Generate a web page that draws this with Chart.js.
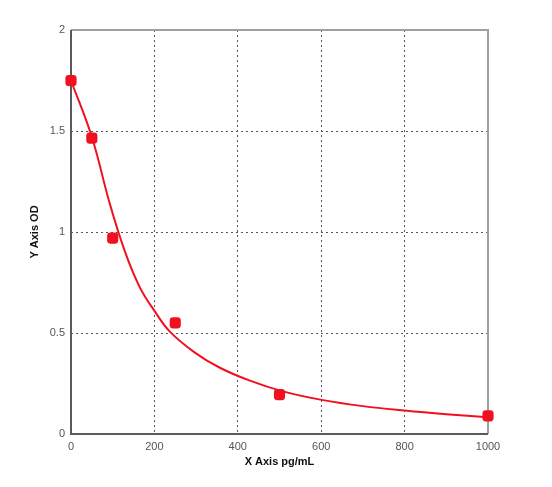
<!DOCTYPE html>
<html><head><meta charset="utf-8">
<script src="https://cdn.jsdelivr.net/npm/chart.js@4"></script>
<style>html,body{margin:0;padding:0;background:#fff}#wrap{width:552px;height:487px}</style>
</head><body><div id="wrap"><canvas id="c" width="552" height="487"></canvas></div>
<script>
const pointX = [0, 50, 100, 250, 500, 1000];
const pointY = [1.75, 1.465, 0.97, 0.55, 0.195, 0.09];
const curveX = [0, 50, 93, 129, 165, 201, 237, 297, 357, 429, 508, 601, 700, 800, 900, 1000];
const curveY = [1.75, 1.47, 1.14, 0.905, 0.726, 0.607, 0.507, 0.403, 0.328, 0.264, 0.211, 0.169, 0.138, 0.116, 0.098, 0.083];
const xTicks = [0, 200, 400, 600, 800, 1000];
const yTicks = [0, 0.5, 1, 1.5, 2];
const xTitle = 'X Axis pg/mL';
const yTitle = 'Y Axis OD';

const red = 'rgb(240,16,32)';
const frame = {
  id: 'frame',
  beforeDatasetsDraw(chart) {
    const a = chart.chartArea, ctx = chart.ctx;
    ctx.save();
    ctx.strokeStyle = '#a0a0a0'; ctx.lineWidth = 2;
    ctx.beginPath();
    ctx.moveTo(a.left, a.top); ctx.lineTo(a.right, a.top); ctx.lineTo(a.right, a.bottom);
    ctx.stroke();
    ctx.strokeStyle = '#5a5a5a';
    ctx.beginPath();
    ctx.moveTo(a.left, a.top); ctx.lineTo(a.left, a.bottom); ctx.lineTo(a.right, a.bottom);
    ctx.stroke();
    ctx.restore();
  }
};
const gridColor = (ctx, ticks) => {
  const v = ctx.tick ? ctx.tick.value : null;
  return (v === ticks[0] || v === ticks[ticks.length - 1]) ? 'rgba(0,0,0,0)' : '#555';
};
new Chart(document.getElementById('c'), {
  type: 'scatter',
  data: {
    datasets: [
      { data: curveX.map((x, i) => ({x, y: curveY[i]})), showLine: true, borderColor: red, borderWidth: 2,
        pointRadius: 0, tension: 0.4, order: 2, clip: false },
      { data: pointX.map((x, i) => ({x, y: pointY[i]})), showLine: false, backgroundColor: red, borderColor: red,
        pointStyle: 'rectRounded', pointRadius: 6.5, borderWidth: 0, order: 1, clip: false }
    ]
  },
  options: {
    responsive: false, animation: false, devicePixelRatio: 1,
    layout: { padding: { left: 0, right: 64, top: 30, bottom: 0 } },
    plugins: { legend: { display: false }, tooltip: { enabled: false } },
    scales: {
      x: {
        type: 'linear', min: 0, max: 1000,
        afterBuildTicks: s => { s.ticks = xTicks.map(v => ({value: v})); },
        afterFit: s => { s.height = 53; },
        ticks: { color: '#555', font: { family: 'Liberation Sans', size: 11 }, padding: 6, callback: v => String(v) },
        grid: { color: c => gridColor(c, xTicks), lineWidth: 1, drawTicks: false },
        border: { display: false, dash: [2, 3] },
        title: { display: true, text: xTitle, color: '#111', font: { family: 'Liberation Sans', size: 11, weight: 'bold' }, padding: { top: 0, bottom: 18 } }
      },
      y: {
        type: 'linear', min: 0, max: 2,
        afterBuildTicks: s => { s.ticks = yTicks.map(v => ({value: v})); },
        afterFit: s => { s.width = 71; },
        ticks: { color: '#555', font: { family: 'Liberation Sans', size: 11 }, padding: 6, callback: v => String(v) },
        grid: { color: c => gridColor(c, yTicks), lineWidth: 1, drawTicks: false },
        border: { display: false, dash: [2, 3] },
        title: { display: true, text: yTitle, color: '#111', font: { family: 'Liberation Sans', size: 11, weight: 'bold' }, padding: { top: 28, bottom: 0 } }
      }
    }
  },
  plugins: [frame]
});
</script></body></html>
